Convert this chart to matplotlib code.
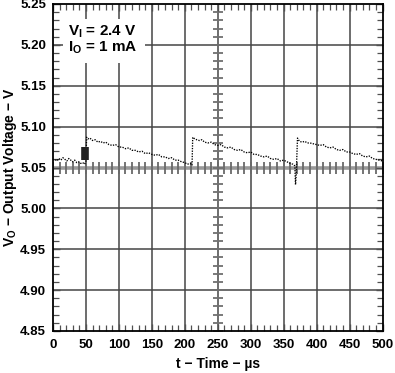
import matplotlib
matplotlib.use("Agg")
import matplotlib.pyplot as plt
from matplotlib.patches import Rectangle
import numpy as np

plt.rcParams['font.family'] = ['Liberation Sans', 'DejaVu Sans']
plt.rcParams['font.weight'] = 'bold'
plt.rcParams['mathtext.fontset'] = 'custom'
plt.rcParams['mathtext.rm'] = 'Liberation Sans:bold'
plt.rcParams['mathtext.bf'] = 'Liberation Sans:bold'
plt.rcParams['mathtext.it'] = 'Liberation Sans:bold'

# ---- data ----
time_us = [0, 3, 6, 9, 12, 15, 18, 21, 24, 27, 30, 33, 36, 39, 42, 45, 48, 50,
           51, 53, 56, 60, 64, 68, 72, 76, 80, 85, 90, 95, 100, 105, 110, 115, 120,
           125, 130, 135, 140, 145, 150, 155, 160, 165, 170, 175, 180, 185, 190, 195,
           200, 204, 208, 211,
           212, 215, 218, 222, 226, 230, 235, 240, 245, 250, 255, 260, 265, 270, 275,
           280, 285, 290, 295, 300, 305, 310, 315, 320, 325, 330, 335, 340, 345, 350,
           355, 360, 364, 367, 368, 369, 371,
           374, 378, 382, 386, 390, 395, 400, 405, 410, 415, 420, 425, 430, 435, 440,
           445, 450, 455, 460, 465, 470, 475, 480, 485, 490, 495, 500]
voltage_v = [5.059, 5.060, 5.058, 5.061, 5.059, 5.062, 5.060, 5.058, 5.061, 5.059, 5.057, 5.059, 5.056, 5.057, 5.055, 5.056, 5.054, 5.058,
             5.087, 5.085, 5.086, 5.083, 5.084, 5.081, 5.082, 5.080, 5.081, 5.078, 5.077, 5.078, 5.075, 5.075, 5.073, 5.074, 5.071,
             5.071, 5.069, 5.070, 5.067, 5.068, 5.066, 5.065, 5.066, 5.063, 5.063, 5.061, 5.062, 5.059, 5.059, 5.057,
             5.056, 5.054, 5.055, 5.053,
             5.087, 5.085, 5.084, 5.083, 5.084, 5.081, 5.080, 5.081, 5.078, 5.077, 5.078, 5.075, 5.074, 5.075, 5.072,
             5.071, 5.072, 5.069, 5.068, 5.069, 5.066, 5.066, 5.064, 5.063, 5.064, 5.061, 5.060, 5.061, 5.058, 5.059,
             5.057, 5.055, 5.054, 5.052, 5.029, 5.040, 5.086,
             5.082, 5.081, 5.082, 5.080, 5.080, 5.079, 5.078, 5.077, 5.078, 5.075, 5.074, 5.075, 5.072, 5.071, 5.072,
             5.069, 5.069, 5.067, 5.066, 5.067, 5.064, 5.063, 5.064, 5.061, 5.060, 5.059, 5.058]

trigger_t = 48.5
trigger_v = [5.0595, 5.0745]

x_ticks = list(range(0, 501, 50))
y_ticks = [4.85, 4.90, 4.95, 5.00, 5.05, 5.10, 5.15, 5.20, 5.25]
x_center = 250
y_center = 5.05

fig = plt.figure(figsize=(3.95, 3.73), dpi=100)
ax = fig.add_axes([53/395, 1-331/373, 329.5/395, 327/373])
ax.set_xlim(0, 500)
ax.set_ylim(4.85, 5.25)

# grid
for xv in x_ticks[1:-1]:
    ax.axvline(xv, color='#454545', lw=1.1, zorder=1)
for yv in y_ticks[1:-1]:
    if abs(yv - y_center) > 1e-9:
        ax.axhline(yv, color='#454545', lw=1.1, zorder=1)
ax.axhline(y_center, color='#9a9a9a', lw=2.6, zorder=1)

# minor ticks along center cross-hair
minor_x = np.arange(0, 501, 10)
minor_y = np.arange(4.85, 5.2501, 0.01)
ax.plot(minor_x, np.full(len(minor_x), y_center), ls='none', marker='|',
        ms=8, mew=1.3, color='#6a6a6a', zorder=1.5)
ax.plot(np.full(len(minor_y), x_center), minor_y, ls='none', marker='_',
        ms=7, mew=1.3, color='#707070', zorder=1.5)

# annotation box
ax.add_patch(Rectangle((0.030, 0.82), 0.25, 0.135, transform=ax.transAxes,
                       facecolor='white', edgecolor='none', zorder=2))
ax.text(0.045, 0.902, r'V$_\mathbf{I}$ = 2.4 V', transform=ax.transAxes,
        fontsize=11, fontweight='bold', zorder=3, va='baseline')
ax.text(0.045, 0.853, r'I$_\mathbf{O}$ = 1 mA', transform=ax.transAxes,
        fontsize=11, fontweight='bold', zorder=3, va='baseline')

# trace
ax.plot(time_us, voltage_v, color='black', ls=(0, (1, 1)), lw=0.95, zorder=4)
ax.plot([trigger_t, trigger_t], trigger_v, color='#222222', lw=5.5,
        solid_capstyle='butt', zorder=5)

# axes styling
for s in ax.spines.values():
    s.set_linewidth(1.3)
    s.set_color('black')
    s.set_zorder(6)
ax.set_xticks(x_ticks)
ax.set_yticks(y_ticks)
ax.set_xticklabels([str(v) for v in x_ticks])
ax.set_yticklabels([f'{v:.2f}' for v in y_ticks])
ax.set_xticks(minor_x, minor=True)
ax.set_yticks(minor_y, minor=True)
ax.tick_params(which='both', direction='in', top=True, right=True,
               color='#505050')
ax.tick_params(which='major', length=5, width=1.0, labelsize=9.5, pad=6)
ax.tick_params(axis='y', which='major', pad=5)
ax.tick_params(which='minor', length=4, width=0.9)
for lab in ax.get_xticklabels() + ax.get_yticklabels():
    lab.set_fontweight('bold')

ax.set_xlabel('t − Time − µs', fontsize=10, fontweight='bold', labelpad=4)
ax.set_ylabel(r'V$_\mathbf{O}$ − Output Voltage − V', fontsize=10,
              fontweight='bold')
ax.yaxis.set_label_coords(-0.103, 0.5)

fig.savefig('out.png', dpi=100)
